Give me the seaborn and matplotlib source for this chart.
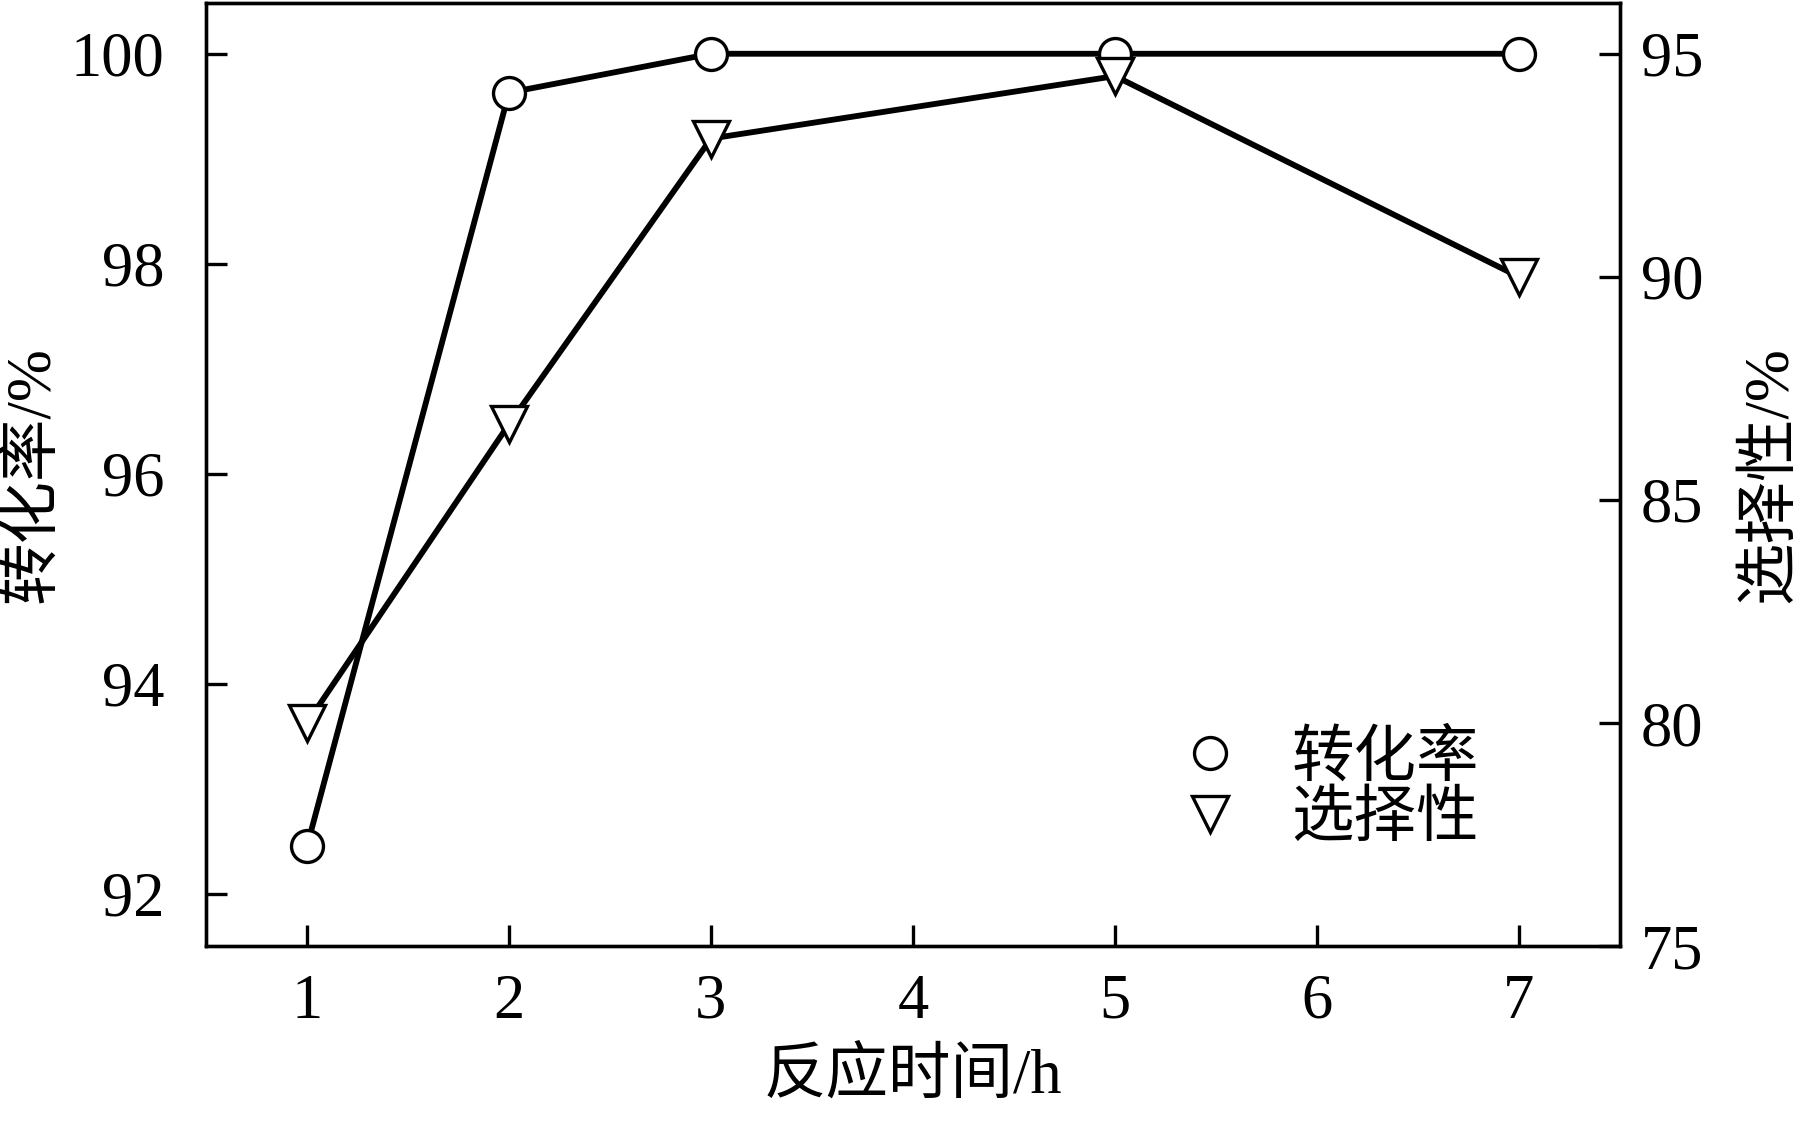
import numpy as np
import pandas as pd
import seaborn as sns
import matplotlib.pyplot as plt
from matplotlib.lines import Line2D

# data
time_h = [1, 2, 3, 5, 7]
conversion = [92.45, 99.63, 100.0, 100.0, 100.0]
selectivity = [80.0, 86.7, 93.1, 94.5, 90.0]
x_ticks = [1, 2, 3, 4, 5, 6, 7]
left_ticks = [92, 94, 96, 98, 100]
right_ticks = [75, 80, 85, 90, 95]

sns.set_style('ticks')
plt.rcParams['font.family'] = ['Liberation Serif', 'Noto Sans CJK SC']
plt.rcParams['axes.unicode_minus'] = False
plt.rcParams['text.color'] = 'black'
plt.rcParams['axes.labelcolor'] = 'black'
plt.rcParams['xtick.color'] = 'black'
plt.rcParams['ytick.color'] = 'black'

df = pd.DataFrame({'time': time_h, 'conv': conversion, 'sel': selectivity})

fig = plt.figure(figsize=(17.99, 11.21), dpi=100)
ax = fig.add_axes([0.1145, 0.156, 0.786, 0.841])
ax2 = ax.twinx()

lw = 4.2
mew = 2.4
sns.lineplot(data=df, x='time', y='conv', ax=ax, color='black', linewidth=lw,
             marker='o', markersize=23, markerfacecolor='white',
             markeredgecolor='black', markeredgewidth=mew)
sns.lineplot(data=df, x='time', y='sel', ax=ax2, color='black', linewidth=lw,
             marker='v', markersize=26, markerfacecolor='white',
             markeredgecolor='black', markeredgewidth=mew)

ax.set_xlim(0.5, 7.5)
ax.set_ylim(91.5, 100.48)
ax2.set_ylim(75, 96.13)
ax.set_xticks(x_ticks)
ax.set_yticks(left_ticks)
ax2.set_yticks(right_ticks)

fs = 45
ax.tick_params(axis='x', direction='in', length=15, width=2.4, labelsize=fs, pad=20)
ax.tick_params(axis='y', direction='in', length=15, width=2.4, labelsize=fs, pad=30, right=False)
ax2.tick_params(axis='y', direction='in', length=15, width=2.4, labelsize=fs, pad=15)
for a in (ax, ax2):
    for s in a.spines.values():
        s.set_linewidth(2.4)
        s.set_visible(True)
        s.set_color('black')

ax.set_xlabel('反应时间/h', fontsize=fs, labelpad=12)
ax.set_ylabel('转化率/%', fontsize=fs, labelpad=6)
ax2.set_ylabel('选择性/%', fontsize=fs, labelpad=28, rotation=90)

handles = [
    Line2D([], [], linestyle='none', marker='o', markersize=23, markerfacecolor='white',
           markeredgecolor='black', markeredgewidth=mew),
    Line2D([], [], linestyle='none', marker='v', markersize=26, markerfacecolor='white',
           markeredgecolor='black', markeredgewidth=mew),
]
ax2.legend(handles, ['转化率', '选择性'], loc='center left', bbox_to_anchor=(0.688, 0.165),
           frameon=False, fontsize=fs, handlelength=1.0, handletextpad=0.8,
           labelspacing=0.05, borderpad=0, borderaxespad=0)

fig.savefig('out.png', dpi=100)
